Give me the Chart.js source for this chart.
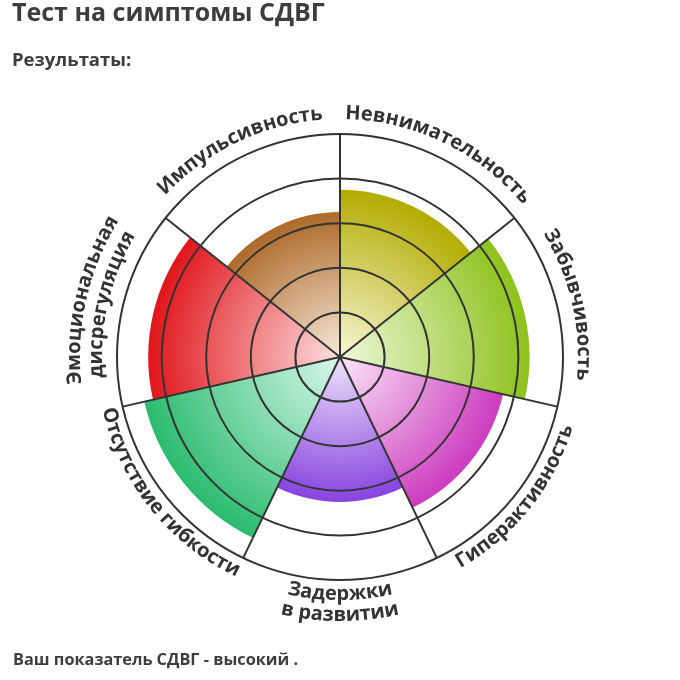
<!DOCTYPE html>
<html lang="ru">
  <head>
    <meta charset="UTF-8" />
    <meta name="viewport" content="width=device-width, initial-scale=1.0" />
    <title>Тест на симптомы СДВГ</title>
    <script src="https://cdn.jsdelivr.net/npm/chart.js@4.4.1/dist/chart.umd.min.js"></script>
    <style>
      body { margin: 0; background: #fff; font-family: "Open Sans", sans-serif; color: #3d3d3d; }
      #page { position: relative; width: 680px; height: 680px; overflow: hidden; }
      #page canvas { position: absolute; left: 0; top: 0; }
      .txt { position: absolute; left: 12px; margin: 0; font-weight: 700; white-space: nowrap; }
      #title { top: -1px; font-size: 25px; line-height: 25px; }
      #sub { top: 50px; font-size: 18.5px; line-height: 18.5px; }
      #result { top: 651px; left: 13px; font-size: 16.3px; line-height: 16.3px; }
    </style>
  </head>
  <body>
    <div id="page">
      <canvas id="myChart" width="680" height="680"></canvas>
      <h1 class="txt" id="title">Тест на симптомы СДВГ</h1>
      <div class="txt" id="sub">Результаты:</div>
      <div class="txt" id="result">Ваш показатель СДВГ - высокий .</div>
    </div>

    <script>
      // segments go clockwise from 12 o'clock
      const symptoms = [
        'Невнимательность',
        'Забывчивость',
        'Гиперактивность',
        ['Задержки', 'в развитии'],
        'Отсутствие гибкости',
        ['Эмоциональная', 'дисрегуляция'],
        'Импульсивность'
      ];
      const scores = [75, 85, 75, 65, 90, 86, 65];
      const ringTicks = [20, 40, 60, 80, 100];

      const innerColors = ['#f7f6d6', '#eef8da', '#fce6f7', '#eee3fb', '#d9f8ec', '#fde0e0', '#f8e9da'];
      const outerColors = ['#b3ac02', '#8dc21c', '#cc3cbf', '#8744df', '#2bbb6e', '#e0161b', '#ad6a2a'];

      function segmentFill(c) {
        const chart = c.chart;
        const s = chart.scales.r;
        const i = c.dataIndex;
        if (!s || !chart.chartArea || i == null) return outerColors[i] || '#ccc';
        const r = Math.max(1, s.getDistanceFromCenterForValue(scores[i]));
        const g = chart.ctx.createRadialGradient(s.xCenter, s.yCenter, 0, s.xCenter, s.yCenter, r);
        g.addColorStop(0, innerColors[i]);
        g.addColorStop(1, outerColors[i]);
        return g;
      }

      // write one line of text along a circle, centred on angle mid
      function textOnArc(ctx, text, cx, cy, r, mid, ccw) {
        const total = ctx.measureText(text).width;
        const span = total / r;
        const chars = [...text];
        let prefix = '';
        chars.forEach(ch => {
          const w = ctx.measureText(ch).width;
          const off = (ctx.measureText(prefix).width + w / 2) / r;
          const ang = ccw ? mid + span / 2 - off : mid - span / 2 + off;
          ctx.save();
          ctx.translate(cx + r * Math.cos(ang), cy + r * Math.sin(ang));
          ctx.rotate(ccw ? ang - Math.PI / 2 : ang + Math.PI / 2);
          ctx.fillText(ch, 0, 0);
          ctx.restore();
          prefix += ch;
        });
      }

      const curvedLabels = {
        id: 'curvedLabels',
        afterDraw(chart) {
          const s = chart.scales.r;
          const ctx = chart.ctx;
          const n = chart.data.labels.length;
          const R = s.drawingArea;
          ctx.save();
          ctx.font = 'bold 20px "Open Sans"';
          ctx.fillStyle = '#333';
          ctx.textAlign = 'center';
          ctx.textBaseline = 'alphabetic';
          chart.data.labels.forEach((label, i) => {
            const lines = Array.isArray(label) ? label : [label];
            let mid = s.getIndexAngle(i) - Math.PI / 2 + Math.PI / n;
            mid = Math.atan2(Math.sin(mid), Math.cos(mid));
            const lower = mid > 0.05 && mid < Math.PI - 0.05;
            lines.forEach((line, j) => {
              const r = lower ? R + 20 + j * 21 : R + 15 + (lines.length - 1 - j) * 22;
              textOnArc(ctx, line, s.xCenter, s.yCenter, r, mid, lower);
            });
          });
          ctx.restore();
        }
      };

      function setup() {
        const ctx = document.getElementById('myChart').getContext('2d');
        new Chart(ctx, {
          type: 'polarArea',
          data: {
            labels: symptoms,
            datasets: [
              {
                data: scores,
                backgroundColor: segmentFill,
                borderWidth: 0
              }
            ]
          },
          options: {
            responsive: false,
            animation: false,
            events: [],
            layout: { padding: { left: 117, right: 117, top: 134, bottom: 100 } },
            plugins: { legend: { display: false }, tooltip: { enabled: false } },
            scales: {
              r: {
                min: 0,
                max: 100,
                afterBuildTicks: axis => { axis.ticks = [0, ...ringTicks].map(v => ({ value: v })); },
                ticks: { display: false },
                grid: { z: 1, color: '#333', lineWidth: 2, circular: true },
                angleLines: { display: true, color: '#333', lineWidth: 2 },
                pointLabels: { display: false }
              }
            }
          },
          plugins: [curvedLabels]
        });
      }

      if (document.fonts && document.fonts.load) {
        document.fonts.load('bold 20px "Open Sans"').then(setup, setup);
      } else {
        window.addEventListener('load', setup);
      }
    </script>
  </body>
</html>
